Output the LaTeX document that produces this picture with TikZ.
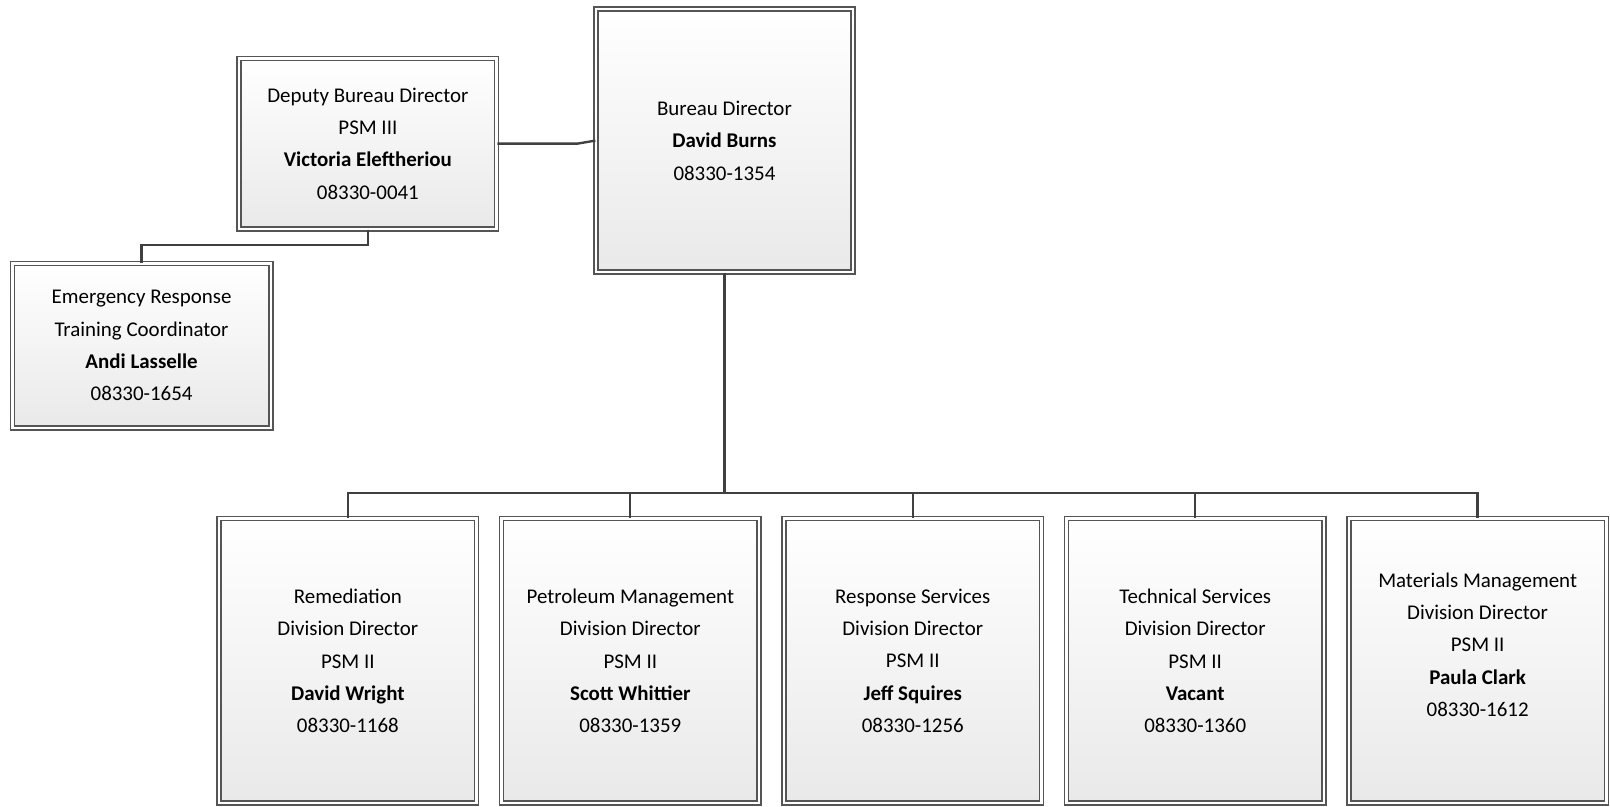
\documentclass[tikz,border=0pt]{standalone}
\usepackage{fontspec}
\setmainfont{Carlito}
\usetikzlibrary{trees,shadows,positioning}

\definecolor{boxline}{RGB}{85,85,85}
\definecolor{linkgray}{RGB}{64,64,64}
\definecolor{boxbottom}{RGB}{233,233,233}

\begin{document}
\begin{tikzpicture}[
			x=1pt, y=-1pt,
			post/.style={rectangle, draw=boxline, double=white, double distance=2.6pt, line width=1.3pt,
				top color=white, bottom color=boxbottom, align=center, inner sep=0pt,
				font=\fontsize{20.4pt}{31.5pt}\selectfont,
				drop shadow={shadow xshift=1.5pt, shadow yshift=-1.5pt, opacity=.25, fill=black}},
			divpost/.style={post, minimum width=251pt, minimum height=277pt},
			link/.style={draw=linkgray, line width=2.3pt},
			level 1/.style={
				grow via three points={one child at (183.5pt,-507pt) and two children at (45.875pt,-507pt) and (321.125pt,-507pt)},
				edge from parent path={(\tikzparentnode.south) -- ++(0,-214.8pt) -| (\tikzchildnode.north)}},
			edge from parent/.style={link}
		]
		\node[post, minimum width=250.4pt, minimum height=256.4pt] (bd) at (706,137) {Bureau Director\\ \textbf{David Burns}\\ 08330-1354}
		child {node[divpost] (rem) {Remediation\\ Division Director\\ PSM II\\ \textbf{David Wright}\\ 08330-1168}}
		child {node[divpost] (pet) {Petroleum Management\\ Division Director\\ PSM II\\ \textbf{Scott Whittier}\\ 08330-1359}}
		child {node[divpost] (rsp) {Response Services\\ Division Director\\ PSM II\\ \textbf{Jeff Squires}\\ 08330-1256}}
		child {node[divpost] (tec) {Technical Services\\ Division Director\\ PSM II\\ \textbf{Vacant}\\ 08330-1360}}
		child {node[divpost] (mat) {Materials Management\\ Division Director\\ PSM II\\ \textbf{Paula Clark}\\ 08330-1612\\ \mbox{}}};

		\node[post, minimum width=251pt, minimum height=166pt] (dep) at (358.5,140) {Deputy Bureau Director\\ PSM III\\ \textbf{Victoria Eleftheriou}\\ 08330-0041};
		\node[post, minimum width=252pt, minimum height=160pt] (erc) at (138,337) {Emergency Response\\ Training Coordinator\\ \textbf{Andi Lasselle}\\ 08330-1654};

		\draw[link] (dep.east) -- ++(78,0) -- (bd.west);
		\draw[link] (dep.south) -- ++(0,15) -| (erc.north);

		\pgfresetboundingbox
		\useasboundingbox (0,0) rectangle (1569,785.5);
	\end{tikzpicture}
\end{document}
